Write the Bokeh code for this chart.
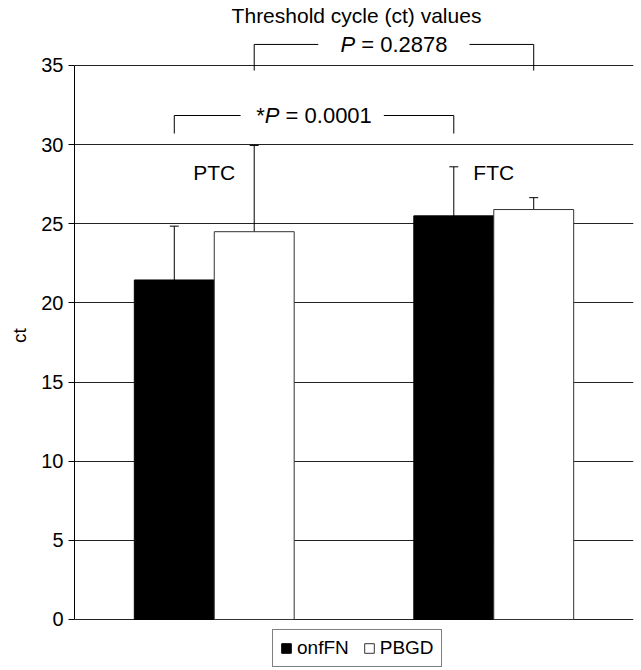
from bokeh.plotting import figure
from bokeh.models import (ColumnDataSource, FactorRange, Range1d, FixedTicker,
                          Whisker, TeeHead, Legend, LegendItem)
from bokeh.transform import dodge
from bokeh.core.properties import value
from bokeh.embed import file_html
from bokeh.resources import INLINE

# ---------------- data ----------------
title_text = "Threshold cycle (ct) values"
categories = ["PTC", "FTC"]
series_names = ["onfFN", "PBGD"]
onfFN = [21.45, 25.5]
onfFN_sd = [3.4, 3.1]
PBGD = [24.5, 25.9]
PBGD_sd = [5.45, 0.75]
y_ticks = [0, 5, 10, 15, 20, 25, 30, 35]
y_label = "ct"
# significance brackets: (series compared, p-value, starred)
bracket_series = ["onfFN", "PBGD"]
bracket_p = ["0.0001", "0.2878"]
bracket_star = [True, False]
bracket_y = [31.84, 36.33]

# ---------------- layout / style ----------------
FONT = "Liberation Sans"
W, H = 641, 670
Y_START, Y_END = -3.222, 39.106
BAR_W = 0.286
OFF = {"onfFN": -BAR_W / 2, "PBGD": BAR_W / 2}
DROP = [1.14, 1.65]
LABEL_Y = 28.21
TITLE_Y = 38.16
PFS = 22  # p-text font size
GAPS = [(16, 12), (22, 22)]

p = figure(width=W, height=H,
           x_range=FactorRange(*categories, range_padding=0),
           y_range=Range1d(Y_START, Y_END),
           output_backend="svg", toolbar_location=None,
           x_axis_location=None,
           min_border_left=74, min_border_right=8,
           min_border_top=0, min_border_bottom=0)
p.outline_line_color = None
p.background_fill_color = "white"
p.border_fill_color = "white"

p.ygrid.ticker = FixedTicker(ticks=y_ticks)
p.ygrid.grid_line_color = "#222222"
p.ygrid.grid_line_width = 1
p.xgrid.visible = False

ax = p.yaxis[0]
ax.ticker = FixedTicker(ticks=y_ticks)
ax.bounds = (0, 35)
ax.axis_line_color = "black"
ax.major_tick_line_color = "black"
ax.major_tick_out = 6
ax.major_tick_in = 0
ax.minor_tick_line_color = None
ax.major_label_text_font = FONT
ax.major_label_text_font_size = "20px"
ax.major_label_text_color = "black"
ax.major_label_standoff = 5
ax.axis_label = y_label
ax.axis_label_text_font = FONT
ax.axis_label_text_font_size = "19px"
ax.axis_label_text_font_style = "normal"
ax.axis_label_text_color = "black"
ax.axis_label_standoff = 8

src = ColumnDataSource(dict(
    cat=categories,
    onfFN=onfFN,
    onfFN_lo=[m - s for m, s in zip(onfFN, onfFN_sd)],
    onfFN_hi=[m + s for m, s in zip(onfFN, onfFN_sd)],
    PBGD=PBGD,
    PBGD_lo=[m - s for m, s in zip(PBGD, PBGD_sd)],
    PBGD_hi=[m + s for m, s in zip(PBGD, PBGD_sd)],
))

r1 = p.vbar(x=dodge("cat", OFF["onfFN"], range=p.x_range), top="onfFN", bottom=0,
            width=BAR_W, source=src, fill_color="black", line_color="black")
r2 = p.vbar(x=dodge("cat", OFF["PBGD"], range=p.x_range), top="PBGD", bottom=0,
            width=BAR_W, source=src, fill_color="white", line_color="#333333")

for name in series_names:
    w = Whisker(source=src, base=dodge("cat", OFF[name], range=p.x_range),
                upper=name + "_hi", lower=name + "_lo", dimension="height",
                line_color="black", line_width=1,
                upper_head=TeeHead(size=9, line_color="black", line_width=1),
                lower_head=TeeHead(size=9, line_color="black", line_width=1))
    p.add_layout(w)

# category labels
p.text(x="cat", y=LABEL_Y, text="cat", source=src,
       text_font=value(FONT), text_font_size="21px", text_color="black",
       text_align="center", text_baseline="middle")

# title
tsrc = ColumnDataSource(dict(c=[categories[1]], t=[title_text]))
p.text(x=dodge("c", -0.5, range=p.x_range), y=TITLE_Y, text="t", source=tsrc,
       text_font=value(FONT), text_font_size="21px", text_color="black",
       text_align="center", text_baseline="middle", x_offset=2.5)

# brackets
w_star = 0.389 * PFS
w_P = 0.667 * PFS
w_sp = 0.278 * PFS
w_rest = (0.584 + 0.278 + 3.058) * PFS
for i in range(len(bracket_p)):
    off = OFF[bracket_series[i]]
    y = bracket_y[i]
    bsrc = ColumnDataSource(dict(
        c0=[categories[0], categories[0], categories[1]],
        c1=[categories[1], categories[0], categories[1]],
        y0=[y, y, y], y1=[y, y - DROP[i], y - DROP[i]]))
    p.segment(x0=dodge("c0", off, range=p.x_range), x1=dodge("c1", off, range=p.x_range),
              y0="y0", y1="y1", source=bsrc, line_color="black", line_width=1)
    lead = (w_star if bracket_star[i] else 0) + w_P
    total = lead + w_sp + w_rest
    start = -total / 2
    junction = start + lead
    gl, gr = GAPS[i]
    pad_left = int(round(lead + w_sp + gl))
    msrc = ColumnDataSource(dict(c=[categories[0]], star=["*"], P=["P"],
                                 rest=["= " + bracket_p[i]]))
    mx = dodge("c", off + 0.5, range=p.x_range)
    p.text(x=mx, y=y, text="rest", source=msrc, x_offset=junction + w_sp - pad_left,
           text_font=value(FONT), text_font_size=f"{PFS}px", text_color="black",
           text_align="left", text_baseline="middle",
           background_fill_color="white",
           padding=dict(left=pad_left, right=gr, top=0, bottom=0))
    p.text(x=mx, y=y, text="P", source=msrc, x_offset=junction,
           text_font=value(FONT), text_font_size=f"{PFS}px", text_font_style="italic",
           text_color="black", text_align="right", text_baseline="middle")
    if bracket_star[i]:
        p.text(x=mx, y=y, text="star", source=msrc, x_offset=junction - w_P,
               text_font=value(FONT), text_font_size=f"{PFS}px", text_color="black",
               text_align="right", text_baseline="middle")

legend = Legend(items=[LegendItem(label=series_names[0], renderers=[r1]),
                       LegendItem(label=series_names[1], renderers=[r2])],
                orientation="horizontal", location=(198, 3), margin=0,
                padding=7, spacing=14, label_standoff=5,
                glyph_width=12, glyph_height=12, label_height=16,
                label_text_font=FONT, label_text_font_size="19px",
                label_text_color="black",
                border_line_color="black", border_line_width=1,
                background_fill_color="white", background_fill_alpha=1)
p.add_layout(legend)

open("out.html", "w").write(file_html(p, INLINE))
